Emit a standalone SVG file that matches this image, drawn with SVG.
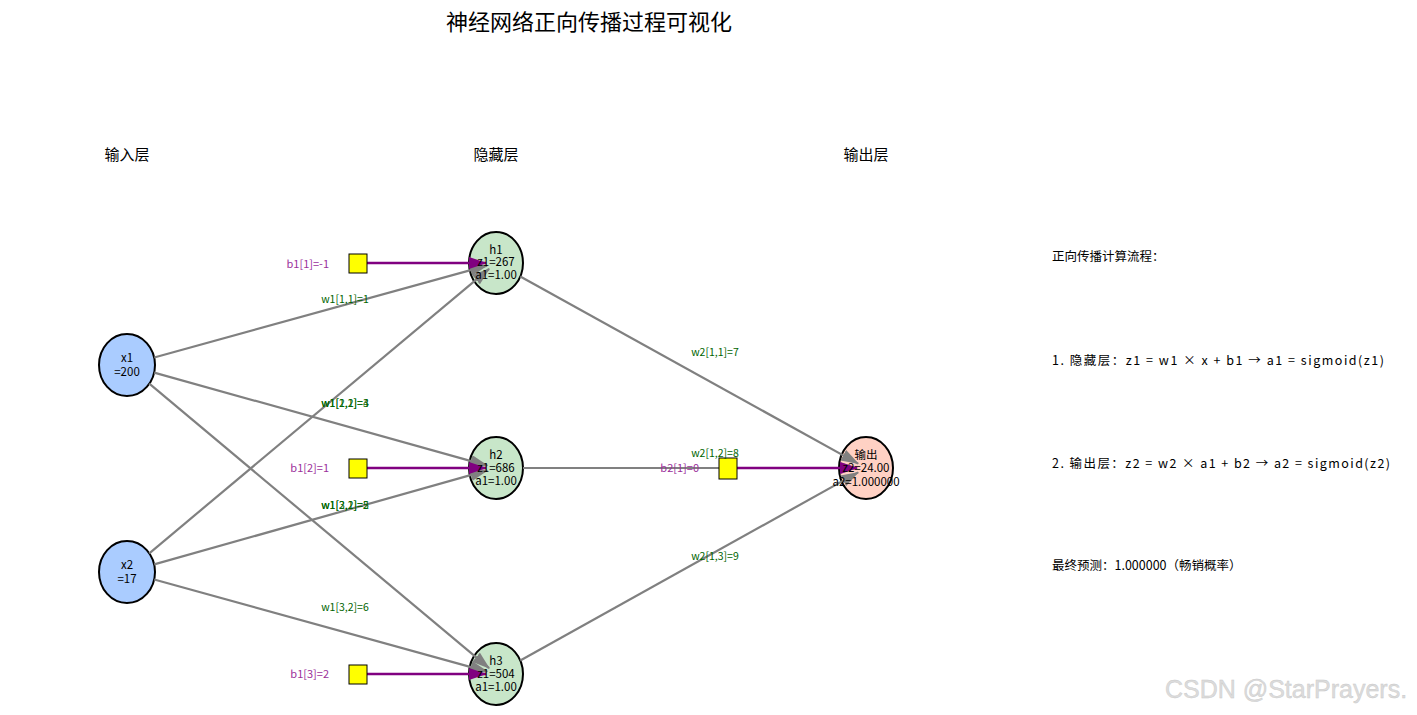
<svg xmlns="http://www.w3.org/2000/svg" width="1417" height="715" viewBox="0 0 1417 715">
<style>
text{font-family:"Noto Sans CJK SC","Liberation Sans",sans-serif;fill:#000}
.title{font-size:22px;text-anchor:middle}
.layer{font-size:15px;text-anchor:middle}
.nt{font-size:11.5px;text-anchor:middle}
.wl{font-size:10.5px;text-anchor:middle;fill:#006400}
.bl{font-size:11px;text-anchor:end;fill:#9b309b}
.info{font-size:12.5px}
.node{stroke:#000;stroke-width:2}
.in{fill:#aaccff}
.hid{fill:#c8e6c9}
.out{fill:#ffd1c4}
.bias{fill:#ffff00;stroke:#000;stroke-width:1}
.edge{stroke:#808080;stroke-width:2.2;fill:none;marker-end:url(#ag)}
.barrow{stroke:#800080;stroke-width:2.5;fill:none;marker-end:url(#ap)}
.wm{font-family:"Liberation Sans",Arial,sans-serif;font-size:25px;fill:#dcdcdc;stroke:#c8c8c8;stroke-width:0.4}
</style>
<defs>
<marker id="ag" viewBox="0 0 18 12" refX="17" refY="6" markerWidth="18" markerHeight="12" markerUnits="userSpaceOnUse" orient="auto"><path d="M0,0 L18,6 L0,12 z" fill="#808080"/></marker>
<marker id="ap" viewBox="0 0 18 12" refX="17" refY="6" markerWidth="18" markerHeight="12" markerUnits="userSpaceOnUse" orient="auto"><path d="M0,0 L18,6 L0,12 z" fill="#800080"/></marker>
</defs>
<rect width="1417" height="715" fill="#fff"/>
<text class="title" x="589" y="30">神经网络正向传播过程可视化</text>
<text class="layer" x="127" y="160">输入层</text>
<text class="layer" x="496" y="160">隐藏层</text>
<text class="layer" x="866" y="160">输出层</text>

<g id="node-x1"><ellipse class="node in" cx="127" cy="365" rx="28" ry="31"/></g>
<g id="node-x2"><ellipse class="node in" cx="127" cy="572" rx="28" ry="31"/></g>
<g id="node-h1"><ellipse class="node hid" cx="496" cy="263" rx="27" ry="31"/></g>
<g id="node-h2"><ellipse class="node hid" cx="496" cy="468" rx="27" ry="31"/></g>
<g id="node-h3"><ellipse class="node hid" cx="496" cy="674" rx="27" ry="31"/></g>
<g id="node-out"><ellipse class="node out" cx="866" cy="468" rx="27" ry="31"/></g>

<g id="connectors">
<line class="edge" x1="154.2" y1="357.5" x2="487" y2="265.6"/>
<line class="edge" x1="154.2" y1="372.6" x2="487.3" y2="465.6"/>
<line class="edge" x1="149.3" y1="383.7" x2="489.1" y2="668.2"/>
<line class="edge" x1="149.3" y1="553.3" x2="489.1" y2="268.8"/>
<line class="edge" x1="154.2" y1="564.4" x2="487.3" y2="470.4"/>
<line class="edge" x1="154.2" y1="579.5" x2="487.3" y2="671.6"/>
<line class="edge" x1="520.3" y1="276.5" x2="858.1" y2="463.6"/>
<line class="edge" x1="523" y1="468" x2="857" y2="468"/>
<line class="edge" x1="520.3" y1="660.5" x2="858.1" y2="472.4"/>
<line class="barrow" x1="367" y1="263" x2="486" y2="263"/>
<line class="barrow" x1="367" y1="468" x2="486" y2="468"/>
<line class="barrow" x1="367" y1="674" x2="486" y2="674"/>
<line class="barrow" x1="737" y1="468" x2="857" y2="468"/>
</g>

<g id="bias-b1-1"><rect class="bias" x="349" y="254" width="18" height="19"/><text class="bl" x="329" y="268">b1[1]=-1</text></g>
<g id="bias-b1-2"><rect class="bias" x="349" y="459" width="18" height="19"/><text class="bl" x="329" y="472">b1[2]=1</text></g>
<g id="bias-b1-3"><rect class="bias" x="349" y="665" width="18" height="19"/><text class="bl" x="329" y="678">b1[3]=2</text></g>
<g id="bias-b2-1"><rect class="bias" x="719" y="458" width="18" height="21"/><text class="bl" x="699" y="472">b2[1]=0</text></g>

<g id="weight-labels">
<text class="wl" x="345" y="303">w1[1,1]=1</text>
<text class="wl" x="345" y="407">w1[2,1]=3</text>
<text class="wl" x="345" y="407">w1[1,2]=4</text>
<text class="wl" x="345" y="509">w1[3,1]=2</text>
<text class="wl" x="345" y="509">w1[2,2]=5</text>
<text class="wl" x="345" y="611">w1[3,2]=6</text>
<text class="wl" x="715" y="356">w2[1,1]=7</text>
<text class="wl" x="715" y="457">w2[1,2]=8</text>
<text class="wl" x="715" y="560">w2[1,3]=9</text>
</g>

<g id="node-labels">
<text class="nt" x="127" y="362">x1</text><text class="nt" x="127" y="376">=200</text>
<text class="nt" x="127" y="569">x2</text><text class="nt" x="127" y="583">=17</text>
<text class="nt" x="496" y="254">h1</text><text class="nt" x="496" y="266">z1=267</text><text class="nt" x="496" y="279">a1=1.00</text>
<text class="nt" x="496" y="459">h2</text><text class="nt" x="496" y="472">z1=686</text><text class="nt" x="496" y="485">a1=1.00</text>
<text class="nt" x="496" y="665">h3</text><text class="nt" x="496" y="678">z1=504</text><text class="nt" x="496" y="691">a1=1.00</text>
<text class="nt" x="866" y="459">输出</text><text class="nt" x="866" y="472">z2=24.00</text><text class="nt" x="866" y="486">a2=1.000000</text>
</g>

<g id="info">
<text class="info" x="1052" y="261">正向传播计算流程：</text>
<text class="info" x="1052" y="365" textLength="332" lengthAdjust="spacing">1. 隐藏层：z1 = w1 × x + b1 → a1 = sigmoid(z1)</text>
<text class="info" x="1052" y="468" textLength="338" lengthAdjust="spacing">2. 输出层：z2 = w2 × a1 + b2 → a2 = sigmoid(z2)</text>
<text class="info" x="1052" y="570">最终预测：1.000000（畅销概率）</text>
</g>
<text class="wm" x="1165" y="698">CSDN @StarPrayers.</text>
</svg>
